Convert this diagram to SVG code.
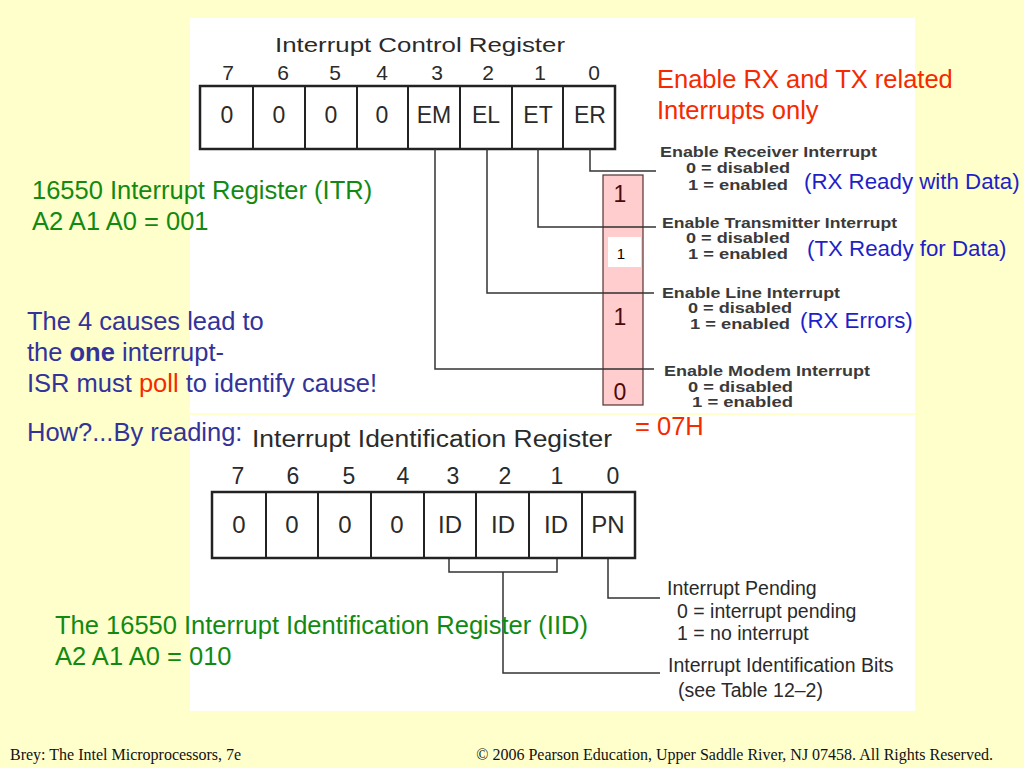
<svg xmlns="http://www.w3.org/2000/svg" width="1024" height="768" viewBox="0 0 1024 768">
<defs>
<style>
.scan{font-family:"Liberation Sans",Arial,sans-serif;fill:#2a2a2a;}
.scanb{font-family:"Liberation Sans",Arial,sans-serif;fill:#3a3a3a;font-weight:bold;}
.cell{fill:#fff;stroke:#222;stroke-width:2.5;}
.div{stroke:#222;stroke-width:2;}
.lead{fill:none;stroke:#333;stroke-width:1.5;}
.green{font-family:"Liberation Sans",Arial,sans-serif;fill:#128a12;font-size:25.5px;}
.navy{font-family:"Liberation Sans",Arial,sans-serif;fill:#333399;font-size:25.5px;}
.red{font-family:"Liberation Sans",Arial,sans-serif;fill:#f52a00;font-size:25.5px;}
.blue{font-family:"Liberation Sans",Arial,sans-serif;fill:#1f1fc8;font-size:22.3px;}
.foot{font-family:"Liberation Serif","Times New Roman",serif;fill:#111;font-size:16px;}
.ctr{text-anchor:middle;}
</style>
</defs>
<rect x="0" y="0" width="1024" height="768" fill="#ffffcc"/>
<rect x="190" y="18" width="725" height="395" fill="#ffffff"/>
<rect x="190" y="415" width="725" height="296" fill="#ffffff"/>

<g id="itr-register">
<text class="scan" x="420" y="52" text-anchor="middle" font-size="20" textLength="290" lengthAdjust="spacingAndGlyphs">Interrupt Control Register</text>
<g class="scan ctr" font-size="21">
<text x="228" y="80">7</text><text x="283" y="80">6</text><text x="335" y="80">5</text><text x="382" y="80">4</text>
<text x="437" y="80">3</text><text x="488" y="80">2</text><text x="540" y="80">1</text><text x="594" y="80">0</text>
</g>
<rect class="cell" x="200" y="86" width="415" height="63"/>
<g class="div">
<line x1="253" y1="86" x2="253" y2="149"/><line x1="305" y1="86" x2="305" y2="149"/>
<line x1="357" y1="86" x2="357" y2="149"/><line x1="408" y1="86" x2="408" y2="149"/>
<line x1="460" y1="86" x2="460" y2="149"/><line x1="512" y1="86" x2="512" y2="149"/>
<line x1="563" y1="86" x2="563" y2="149"/>
</g>
<g class="scan ctr" font-size="23">
<text x="227" y="123">0</text><text x="279" y="123">0</text><text x="331" y="123">0</text><text x="382" y="123">0</text>
<text x="434" y="123">EM</text><text x="486" y="123">EL</text><text x="538" y="123">ET</text><text x="590" y="123">ER</text>
</g>
</g>

<g id="itr-bit-descriptions" class="scanb" font-size="14">
<text x="660" y="157" textLength="217" lengthAdjust="spacingAndGlyphs">Enable Receiver Interrupt</text>
<text x="686" y="173" textLength="104" lengthAdjust="spacingAndGlyphs">0 = disabled</text>
<text x="688" y="190" textLength="100" lengthAdjust="spacingAndGlyphs">1 = enabled</text>
<text x="662" y="228" textLength="235" lengthAdjust="spacingAndGlyphs">Enable Transmitter Interrupt</text>
<text x="686" y="243" textLength="104" lengthAdjust="spacingAndGlyphs">0 = disabled</text>
<text x="688" y="259" textLength="100" lengthAdjust="spacingAndGlyphs">1 = enabled</text>
<text x="662" y="298" textLength="178" lengthAdjust="spacingAndGlyphs">Enable Line Interrupt</text>
<text x="688" y="313" textLength="104" lengthAdjust="spacingAndGlyphs">0 = disabled</text>
<text x="690" y="329" textLength="100" lengthAdjust="spacingAndGlyphs">1 = enabled</text>
<text x="664" y="376" textLength="206" lengthAdjust="spacingAndGlyphs">Enable Modem Interrupt</text>
<text x="688" y="392" textLength="105" lengthAdjust="spacingAndGlyphs">0 = disabled</text>
<text x="692" y="407" textLength="101" lengthAdjust="spacingAndGlyphs">1 = enabled</text>
</g>

<g id="connectors">
<polyline class="lead" points="590,149 590,171 656,171"/>
<polyline class="lead" points="538,149 538,227 656,227"/>
<polyline class="lead" points="487,149 487,293 654,293"/>
<polyline class="lead" points="435,149 435,369 654,369"/>
<polyline class="lead" points="449,558 449,572 557,572 557,558"/>
<polyline class="lead" points="503,572 503,673 660,673"/>
<polyline class="lead" points="608,558 608,598 660,598"/>
</g>

<g id="itr-values">
<rect x="603" y="175" width="40" height="230" fill="#ffc8c8" stroke="#553333" stroke-width="1.2" fill-opacity="0.9"/>
<line x1="603" y1="227" x2="643" y2="227" stroke="#333" stroke-width="1.5"/>
<line x1="603" y1="293" x2="643" y2="293" stroke="#333" stroke-width="1.5"/>
<line x1="603" y1="369" x2="643" y2="369" stroke="#333" stroke-width="1.5"/>
<text x="620" y="202" font-family="Liberation Sans,Arial,sans-serif" font-size="23" fill="#4a0a0a" text-anchor="middle">1</text>
<rect x="608" y="237" width="33" height="30" fill="#ffffff"/>
<text x="621" y="259" font-family="Liberation Sans,Arial,sans-serif" font-size="15" fill="#000" text-anchor="middle">1</text>
<text x="620" y="325" font-family="Liberation Sans,Arial,sans-serif" font-size="23" fill="#4a0a0a" text-anchor="middle">1</text>
<text x="620" y="400" font-family="Liberation Sans,Arial,sans-serif" font-size="23" fill="#4a0a0a" text-anchor="middle">0</text>
</g>

<g id="itr-notes">
<text class="red" x="657" y="88">Enable RX and TX related</text>
<text class="red" x="657" y="119">Interrupts only</text>
<text class="blue" x="804" y="189">(RX Ready with Data)</text>
<text class="blue" x="807" y="256">(TX Ready for Data)</text>
<text class="blue" x="800" y="328">(RX Errors)</text>
<text class="red" x="635" y="435">= 07H</text>
</g>

<g id="left-notes">
<text class="green" x="32" y="199">16550 Interrupt Register (ITR)</text>
<text class="green" x="32" y="230">A2 A1 A0 = 001</text>
<text class="navy" x="27" y="330">The 4 causes lead to</text>
<text class="navy" x="27" y="361">the <tspan font-weight="bold">one</tspan> interrupt-</text>
<text class="navy" x="27" y="392">ISR must <tspan fill="#f52a00">poll</tspan> to identify cause!</text>
<text class="navy" x="27" y="441">How?...By reading:</text>
</g>

<g id="iid-register">
<text class="scan" x="252" y="447" font-size="23" textLength="360" lengthAdjust="spacingAndGlyphs">Interrupt Identification Register</text>
<g class="scan ctr" font-size="23">
<text x="238" y="484">7</text><text x="293" y="484">6</text><text x="349" y="484">5</text><text x="403" y="484">4</text>
<text x="453" y="484">3</text><text x="505" y="484">2</text><text x="557" y="484">1</text><text x="613" y="484">0</text>
</g>
<rect class="cell" x="212" y="492" width="423" height="66"/>
<g class="div">
<line x1="266" y1="492" x2="266" y2="558"/><line x1="318" y1="492" x2="318" y2="558"/>
<line x1="371" y1="492" x2="371" y2="558"/><line x1="424" y1="492" x2="424" y2="558"/>
<line x1="476" y1="492" x2="476" y2="558"/><line x1="529" y1="492" x2="529" y2="558"/>
<line x1="582" y1="492" x2="582" y2="558"/>
</g>
<g class="scan ctr" font-size="24">
<text x="239" y="533">0</text><text x="292" y="533">0</text><text x="345" y="533">0</text><text x="397" y="533">0</text>
<text x="450" y="533">ID</text><text x="503" y="533">ID</text><text x="556" y="533">ID</text><text x="608" y="533">PN</text>
</g>
</g>

<g id="iid-bit-descriptions" class="scan" font-size="19.5">
<text x="667" y="595">Interrupt Pending</text>
<text x="677" y="618">0 = interrupt pending</text>
<text x="677" y="640">1 = no interrupt</text>
<text x="668" y="672">Interrupt Identification Bits</text>
<text x="678" y="697">(see Table 12–2)</text>
</g>

<g id="iid-notes">
<text class="green" x="55" y="634">The 16550 Interrupt Identification Register (IID)</text>
<text class="green" x="55" y="665">A2 A1 A0 = 010</text>
</g>

<g id="footer">
<text class="foot" x="10" y="760">Brey: The Intel Microprocessors, 7e</text>
<text class="foot" x="993" y="760" text-anchor="end">© 2006 Pearson Education, Upper Saddle River, NJ 07458. All Rights Reserved.</text>
</g>
</svg>
